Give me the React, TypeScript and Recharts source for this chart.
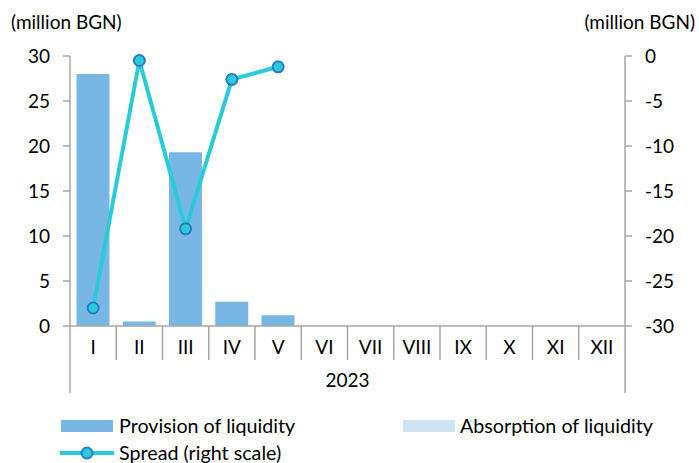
import React from "react";
import {
  ComposedChart,
  Bar,
  Line,
  XAxis,
  YAxis,
} from "recharts";

const months = ["I", "II", "III", "IV", "V", "VI", "VII", "VIII", "IX", "X", "XI", "XII"];
const provision = [28, 0.5, 19.3, 2.7, 1.2, null, null, null, null, null, null, null];
const absorption = [0, 0, 0, 0, 0, null, null, null, null, null, null, null];
const spread = [-28, -0.5, -19.2, -2.6, -1.2, null, null, null, null, null, null, null];
const leftTicks = [0, 5, 10, 15, 20, 25, 30];
const rightTicks = [-30, -25, -20, -15, -10, -5, 0];
const yearLabel = "2023";

const W = 699;
const H = 463;
const LEFT_W = 70;
const RIGHT_W = 74;
const PLOT_W = W - LEFT_W - RIGHT_W;
const FONT = "Lato, 'Open Sans', sans-serif";
const AXIS = "#a6a6a6";
const BAR = "#78b6e4";
const BAR_LIGHT = "#cfe4f3";
const LINE = "#27ccd8";
const DOT_STROKE = "#2b7cc6";

const data = months.map((m, i) => ({
  month: m,
  provision: provision[i],
  absorption: absorption[i],
  spread: spread[i],
}));

function MonthTick(props: any) {
  const { x, y, payload, index } = props;
  const bw = PLOT_W / months.length;
  const left = x - bw / 2;
  const right = x + bw / 2;
  const last = index === months.length - 1;
  return (
    <g>
      <line x1={left} y1={y} x2={left} y2={y + (index === 0 ? 67 : 34)} stroke={AXIS} strokeWidth={1.5} />
      {last && <line x1={right} y1={y} x2={right} y2={y + 67} stroke={AXIS} strokeWidth={1.5} />}
      <text x={x} y={y + 28} textAnchor="middle" fontSize={19} fill="#000" fontFamily={FONT}>
        {payload.value}
      </text>
    </g>
  );
}

export default function App() {
  const legendText = { position: "absolute" as const, fontSize: 19.7, lineHeight: "24px" };
  return (
    <div style={{ position: "absolute", left: 0, top: 0, width: W, height: H, background: "#fff", fontFamily: FONT }}>
      <ComposedChart
        width={W}
        height={H}
        data={data}
        margin={{ top: 56, right: 0, bottom: 70, left: 0 }}
        barCategoryGap="14%"
      >
        <XAxis
          dataKey="month"
          stroke={AXIS}
          strokeWidth={1.5}
          tickLine={false}
          tickSize={0}
          tickMargin={0}
          height={67}
          interval={0}
          tick={<MonthTick />}
          label={{ value: yearLabel, position: "insideBottom", offset: 6, fontSize: 19, fill: "#000", fontFamily: FONT }}
        />
        <YAxis
          yAxisId="left"
          domain={[0, 30]}
          ticks={leftTicks}
          width={LEFT_W}
          stroke={AXIS}
          strokeWidth={1.5}
          tickSize={7}
          tickMargin={13}
          tick={{ fill: "#000", fontSize: 19, fontFamily: FONT }}
        />
        <YAxis
          yAxisId="right"
          orientation="right"
          domain={[-30, 0]}
          ticks={rightTicks}
          width={RIGHT_W}
          stroke={AXIS}
          strokeWidth={1.5}
          tickSize={7}
          tickMargin={13}
          tick={{ fill: "#000", fontSize: 19, fontFamily: FONT }}
        />
        <Bar yAxisId="left" dataKey="provision" stackId="a" fill={BAR} isAnimationActive={false} />
        <Bar yAxisId="left" dataKey="absorption" stackId="a" fill={BAR_LIGHT} isAnimationActive={false} />
        <Line
          yAxisId="right"
          dataKey="spread"
          stroke={LINE}
          strokeWidth={4}
          dot={{ r: 5.5, fill: LINE, stroke: DOT_STROKE, strokeWidth: 2 }}
          isAnimationActive={false}
        />
      </ComposedChart>

      <div style={{ position: "absolute", left: 11, top: 10, fontSize: 19, lineHeight: "24px" }}>(million BGN)</div>
      <div style={{ position: "absolute", right: 4, top: 10, fontSize: 19, lineHeight: "24px" }}>(million BGN)</div>

      <div style={{ position: "absolute", left: 61, top: 420, width: 52, height: 12, background: BAR }} />
      <div style={{ ...legendText, left: 119, top: 414 }}>Provision of liquidity</div>
      <div style={{ position: "absolute", left: 403, top: 420, width: 52, height: 12, background: BAR_LIGHT }} />
      <div style={{ ...legendText, left: 460, top: 414 }}>Absorption of liquidity</div>
      <svg style={{ position: "absolute", left: 58, top: 445 }} width={58} height={16}>
        <line x1={2} y1={8} x2={56} y2={8} stroke={LINE} strokeWidth={4} />
        <circle cx={29} cy={8} r={5.5} fill={LINE} stroke={DOT_STROKE} strokeWidth={2} />
      </svg>
      <div style={{ ...legendText, left: 119, top: 441 }}>Spread (right scale)</div>
    </div>
  );
}
